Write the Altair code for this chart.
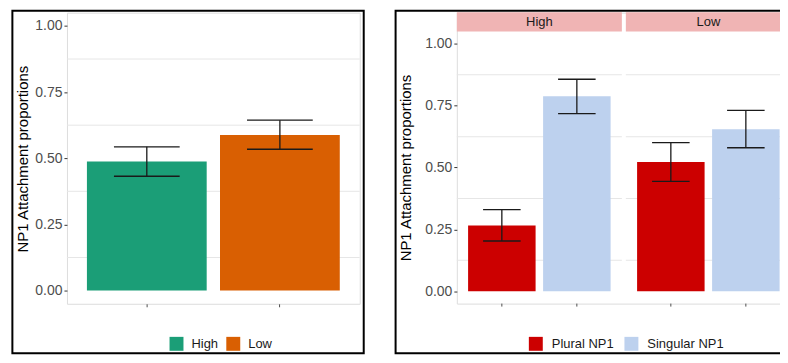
import altair as alt
import pandas as pd

# ---------------- data ----------------
freq = ["High", "Low"]
left_mean = [0.488, 0.588]
left_lo = [0.432, 0.534]
left_hi = [0.543, 0.644]

r_freq = ["High", "High", "Low", "Low"]
r_np = ["Plural NP1", "Singular NP1", "Plural NP1", "Singular NP1"]
r_mean = [0.266, 0.788, 0.522, 0.655]
r_lo = [0.203, 0.718, 0.444, 0.580]
r_hi = [0.330, 0.857, 0.601, 0.731]

y_ticks = [0, 0.25, 0.5, 0.75, 1.0]
minor_grid = [0.125, 0.375, 0.625, 0.875]

np_levels = ["Plural NP1", "Singular NP1"]
left_colors = ["#1B9E77", "#D95F02"]
np_colors = ["#CC0000", "#BDD1EE"]
strip_color = "#F0B4B4"
grid_color = "#E6E6E6"
FONT = "Liberation Sans"
YTITLE = "NP1 Attachment proportions"

# ---------------- sizes ----------------
LW, LH = 294, 292.3
RW, RH = 335.4, 292.1
PANEL = (RW - 4) / 2
BOTTOM = 342
LEG_Y = 325.5
l_dom = [-0.05, 1.05]
r_dom = [-0.05, 1.126]

left_df = pd.DataFrame({"Frequency": freq, "mean": left_mean, "lo": left_lo, "hi": left_hi})
right_df = pd.DataFrame({"Frequency": r_freq, "NP": r_np, "mean": r_mean, "lo": r_lo, "hi": r_hi})
grid_df = pd.DataFrame({"g": minor_grid})
rgrid_df = pd.DataFrame([{"Frequency": f, "g": g} for f in freq for g in minor_grid])
strip_df = pd.DataFrame({"Frequency": freq})
one = pd.DataFrame({"k": [0]})


def yaxis(title_x, title_y):
    return alt.Axis(values=y_ticks, format=".2f", title=YTITLE, grid=False, domain=False,
                    tickSize=3, tickColor="#333333", tickWidth=1,
                    labelColor="#4D4D4D", labelFontSize=14, labelPadding=2, labelFont=FONT,
                    titleFont=FONT, titleFontSize=15, titleFontWeight="normal",
                    titleColor="#000000", titleX=title_x, titleY=title_y,
                    titleBaseline="alphabetic")


def legend(x, y, offset, colpad):
    return alt.Legend(orient="none", legendX=x, legendY=y, direction="horizontal", title=None,
                      symbolType="square", symbolSize=196, symbolStrokeWidth=0,
                      symbolOpacity=1, labelFontSize=13, labelFont=FONT, labelColor="#1a1a1a",
                      labelOffset=offset, columnPadding=colpad, padding=0)


# ---------------- left panel ----------------
ly_scale = alt.Scale(domain=l_dom, nice=False, zero=False)
lx = alt.X("Frequency:N", scale=alt.Scale(domain=freq, paddingInner=0.1, paddingOuter=0.15),
           axis=alt.Axis(labels=False, ticks=True, domain=False, grid=False, tickSize=3,
                         tickColor="#4D4D4D", title=None))

l_grid = alt.Chart(grid_df).mark_rule(color=grid_color, strokeWidth=1).encode(
    y=alt.Y("g:Q", scale=ly_scale, axis=yaxis(-39.5, 146.5)))
l_bars = alt.Chart(left_df).mark_bar().encode(
    x=lx,
    y=alt.Y("mean:Q", scale=ly_scale, title=YTITLE),
    color=alt.Color("Frequency:N", scale=alt.Scale(domain=freq, range=left_colors),
                    legend=legend(103, LEG_Y, 8, 8)))
l_err = alt.Chart(left_df).mark_rule(color="#1a1a1a", strokeWidth=1.3).encode(
    x=lx, y=alt.Y("lo:Q", scale=ly_scale, title=YTITLE), y2="hi:Q")
l_cap_lo = alt.Chart(left_df).mark_tick(orient="horizontal", size=66, thickness=1.3, opacity=1,
                                        color="#1a1a1a").encode(
    x=lx, y=alt.Y("lo:Q", scale=ly_scale, title=YTITLE))
l_cap_hi = alt.Chart(left_df).mark_tick(orient="horizontal", size=66, thickness=1.3, opacity=1,
                                        color="#1a1a1a").encode(
    x=lx, y=alt.Y("hi:Q", scale=ly_scale, title=YTITLE))
l_border = alt.Chart(one).mark_rect(fill="transparent", stroke="black", strokeWidth=2).encode(
    x=alt.value(-54.8), x2=alt.value(298), y=alt.value(-2), y2=alt.value(BOTTOM))

left = alt.layer(l_grid, l_bars, l_err, l_cap_lo, l_cap_hi, l_border).properties(width=LW, height=LH)

# ---------------- right panel ----------------
ry_scale = alt.Scale(domain=r_dom, nice=False, zero=False)
rx = alt.X("Frequency:N", scale=alt.Scale(domain=freq, paddingInner=4 / (PANEL + 4), paddingOuter=0),
           axis=None)
rxo = alt.XOffset("NP:N", scale=alt.Scale(domain=np_levels, paddingInner=0.1, paddingOuter=0.15))

r_grid = alt.Chart(rgrid_df).mark_tick(orient="horizontal", size=PANEL, thickness=1, opacity=1,
                                       color=grid_color).encode(
    x=rx, y=alt.Y("g:Q", scale=ry_scale, axis=yaxis(-46.2, 155.5)))
r_strip = alt.Chart(strip_df).mark_rect(color=strip_color).encode(
    x=rx, y=alt.value(-0.5), y2=alt.value(18.9))
r_strip_text = alt.Chart(strip_df).mark_text(fontSize=13, font=FONT, color="#1a1a1a",
                                             baseline="middle").encode(
    x=rx, y=alt.value(9.6), text="Frequency:N")
r_bars = alt.Chart(right_df).mark_bar().encode(
    x=rx, xOffset=rxo,
    y=alt.Y("mean:Q", scale=ry_scale, title=YTITLE),
    color=alt.Color("NP:N", scale=alt.Scale(domain=np_levels, range=np_colors),
                    legend=legend(72.3, LEG_Y, 9, 10)))
r_err = alt.Chart(right_df).mark_rule(color="#1a1a1a", strokeWidth=1.3).encode(
    x=rx, xOffset=rxo, y=alt.Y("lo:Q", scale=ry_scale, title=YTITLE), y2="hi:Q")
r_cap_lo = alt.Chart(right_df).mark_tick(orient="horizontal", size=37.7, thickness=1.3, opacity=1,
                                         color="#1a1a1a").encode(
    x=rx, xOffset=rxo, y=alt.Y("lo:Q", scale=ry_scale, title=YTITLE))
r_cap_hi = alt.Chart(right_df).mark_tick(orient="horizontal", size=37.7, thickness=1.3, opacity=1,
                                         color="#1a1a1a").encode(
    x=rx, xOffset=rxo, y=alt.Y("hi:Q", scale=ry_scale, title=YTITLE))
r_xticks = alt.Chart(right_df).mark_rule(color="#4D4D4D", strokeWidth=1).encode(
    x=rx, xOffset=rxo, y=alt.value(RH), y2=alt.value(RH + 3))
r_border = alt.Chart(one).mark_rect(fill="transparent", stroke="black", strokeWidth=2).encode(
    x=alt.value(-61.5), x2=alt.value(RW + 6), y=alt.value(-2), y2=alt.value(BOTTOM))

right = alt.layer(r_grid, r_strip, r_strip_text, r_bars, r_err, r_cap_lo, r_cap_hi, r_xticks,
                  r_border).properties(width=RW, height=RH)

# the right-hand figure is cut by the picture's edge, as in the original
chart = alt.hconcat(left, right, spacing=28.5).resolve_scale(
    color="independent", x="independent", y="independent").resolve_legend(
    color="independent").properties(
    padding={"left": 2.2, "top": 0, "right": -19, "bottom": 0}, background="white"
).configure_view(strokeWidth=0).configure(font=FONT)

chart.save("out.html", embed_options={"renderer": "svg", "actions": False})
